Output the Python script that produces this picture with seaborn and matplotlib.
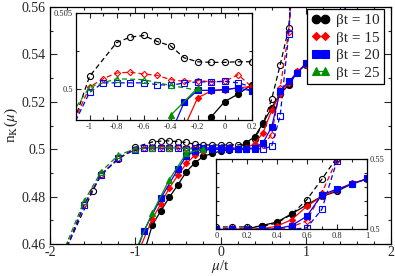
import matplotlib
matplotlib.use("Agg")
import matplotlib.pyplot as plt
import seaborn as sns
from matplotlib.ticker import MultipleLocator, FuncFormatter

sns.set_style("ticks")
plt.rcParams["font.family"] = ["Liberation Serif", "DejaVu Serif"]
plt.rcParams["mathtext.fontset"] = "stix"
plt.rcParams["axes.unicode_minus"] = False

# ---- data (mu/t, n_K) ----
# open symbols, dashed lines
x_open_10 = [-2.0, -1.5, -1.4, -1.2, -1.0, -0.8, -0.7, -0.6, -0.5, -0.4, -0.3, -0.2, -0.1,
             0.0, 0.1, 0.2, 0.3, 0.4, 0.5, 0.6, 0.7, 0.8, 0.9]
y_open_10 = [0.4430, 0.4824, 0.4895, 0.4957, 0.50085, 0.50306, 0.50342, 0.50353, 0.50314,
             0.50285, 0.50207, 0.50181, 0.50177, 0.50177, 0.50181, 0.50181, 0.5022, 0.5045,
             0.5108, 0.5211, 0.5356, 0.5510, 0.6000]

x_open_15 = [-2.0, -1.6, -1.4, -1.2, -1.0, -0.9, -0.8, -0.7, -0.6, -0.5, -0.4, -0.3, -0.2,
             -0.1, 0.0, 0.1, 0.2, 0.3, 0.4, 0.5, 0.6, 0.7, 0.8, 0.9]
y_open_15 = [0.4410, 0.4768, 0.4893, 0.4962, 0.50015, 0.50070, 0.50107, 0.50113, 0.50101,
             0.50092, 0.50064, 0.50053, 0.50058, 0.50050, 0.50053, 0.50096, 0.50017, 0.5003,
             0.5004, 0.5018, 0.5062, 0.5260, 0.5495, 0.6000]

x_open_20 = [-2.0, -1.6, -1.4, -1.2, -1.0, -0.9, -0.8, -0.7, -0.6, -0.5, -0.4, -0.3, -0.2,
             -0.1, 0.0, 0.1, 0.2, 0.3, 0.4, 0.5, 0.6, 0.7, 0.8, 0.9]
y_open_20 = [0.4410, 0.4765, 0.4890, 0.4962, 0.49980, 0.50043, 0.50043, 0.50043, 0.50043,
             0.50032, 0.50026, 0.50043, 0.50049, 0.50049, 0.50053, 0.50043, 0.50017, 0.5002,
             0.5001, 0.5002, 0.5012, 0.5142, 0.5485, 0.6000]

x_open_25 = [-2.0, -1.6, -1.4, -1.2, -1.0, -0.8, -0.6, -0.4, -0.2]
y_open_25 = [0.4430, 0.4781, 0.4905, 0.4975, 0.50015, 0.50070, 0.50064, 0.50026, 0.49995]

# filled symbols, solid lines
x_full_10 = [-1.0, -0.8, -0.7, -0.6, -0.5, -0.4, -0.3, -0.2, -0.1, 0.0, 0.1, 0.2, 0.3, 0.4,
             0.5, 0.6, 0.7, 0.8, 0.9, 1.0, 1.1, 1.2, 1.3, 1.4, 1.5]
y_full_10 = [0.4440, 0.4680, 0.4740, 0.4797, 0.4850, 0.4905, 0.4943, 0.4970, 0.4982, 0.4992,
             0.4997, 0.5003, 0.5028, 0.5052, 0.5111, 0.5175, 0.5235, 0.5270, 0.5325, 0.5357,
             0.5385, 0.5415, 0.5455, 0.5510, 0.5640]

x_full_15 = [-1.0, -0.8, -0.7, -0.6, -0.5, -0.4, -0.3, -0.2, -0.1, 0.0, 0.1, 0.2, 0.3, 0.4,
             0.5, 0.6, 0.7, 0.8, 0.9, 1.0, 1.1, 1.2, 1.3, 1.4, 1.5]
y_full_15 = [0.4537, 0.4705, 0.4770, 0.4837, 0.4890, 0.4940, 0.4975, 0.49945, 0.4999, 0.49997,
             0.5001, 0.5002, 0.5005, 0.5023, 0.5070, 0.5164, 0.5235, 0.5280, 0.5329, 0.5357,
             0.5385, 0.5415, 0.5455, 0.5510, 0.5640]

x_full_20 = [-1.0, -0.9, -0.7, -0.5, -0.4, -0.3, -0.2, -0.1, 0.0, 0.1, 0.2, 0.3, 0.4, 0.5,
             0.6, 0.7, 0.8, 0.9, 1.0, 1.1, 1.2, 1.3, 1.4, 1.5]
y_full_20 = [0.4550, 0.4655, 0.4793, 0.4916, 0.4971, 0.49915, 0.49994, 0.49994, 0.5000,
             0.5001, 0.4999, 0.5002, 0.5005, 0.5028, 0.5094, 0.5246, 0.5286, 0.5320, 0.5362,
             0.5385, 0.5415, 0.5455, 0.5510, 0.5640]

x_full_25 = [-1.0, -0.8, -0.6, -0.4, -0.2]
y_full_25 = [0.4570, 0.4731, 0.4872, 0.4983, 0.5001]

labels = ["βt = 10", "βt = 15", "βt = 20", "βt = 25"]
colors = ["black", "red", "blue", "#009000"]
markers = ["o", "D", "s", "^"]
msizes = [4.4, 3.2, 3.7, 4.4]

open_sets = [(x_open_10, y_open_10), (x_open_15, y_open_15),
             (x_open_20, y_open_20), (x_open_25, y_open_25)]
full_sets = [(x_full_10, y_full_10), (x_full_15, y_full_15),
             (x_full_20, y_full_20), (x_full_25, y_full_25)]

fmt = FuncFormatter(lambda v, p: "%g" % round(v, 6))


def draw(ax):
    handles = []
    for i, (xs, ys) in enumerate(open_sets):
        sns.lineplot(x=xs, y=ys, ax=ax, color=colors[i], marker=markers[i],
                     markersize=msizes[i], markerfacecolor="none",
                     markeredgecolor=colors[i], markeredgewidth=0.8,
                     linewidth=0.9, errorbar=None)
        ax.lines[-1].set_dashes((4, 2.5))
    for i, (xs, ys) in enumerate(full_sets):
        sns.lineplot(x=xs, y=ys, ax=ax, color=colors[i], marker=markers[i],
                     markersize=msizes[i], markerfacecolor=colors[i],
                     markeredgecolor=colors[i], markeredgewidth=0.8,
                     linewidth=0.9, errorbar=None)
        handles.append(ax.lines[-1])
    return handles


def style_ticks(ax, major, minor, lsize):
    ax.tick_params(which="both", direction="in", top=True, right=True,
                   labelsize=lsize, width=0.8, pad=2)
    ax.tick_params(which="major", length=major)
    ax.tick_params(which="minor", length=minor)
    ax.xaxis.set_major_formatter(fmt)
    ax.yaxis.set_major_formatter(fmt)
    for s in ax.spines.values():
        s.set_linewidth(0.9)
        s.set_color("black")


fig = plt.figure(figsize=(3.95, 2.76), dpi=100)
ax = fig.add_axes([0.1266, 0.1159, 0.8633, 0.8587])
handles = draw(ax)
ax.set_xlim(-2, 2)
ax.set_ylim(0.46, 0.56)
ax.xaxis.set_major_locator(MultipleLocator(1))
ax.xaxis.set_minor_locator(MultipleLocator(0.2))
ax.yaxis.set_major_locator(MultipleLocator(0.02))
ax.yaxis.set_minor_locator(MultipleLocator(0.01))
style_ticks(ax, 5, 2.5, 10)
ax.tick_params(axis="x", pad=1.5)
ax.tick_params(axis="y", pad=3.5)
ax.set_xlabel(r"$\mu$/t", fontsize=11, labelpad=-1)
ax.set_ylabel(r"n$_\mathrm{K}$($\mu$)", fontsize=11, labelpad=1)

leg = ax.legend(handles, labels, loc="upper right", bbox_to_anchor=(0.98, 0.992),
                borderaxespad=0, fontsize=11, numpoints=2, handlelength=1.2,
                handletextpad=0.4, labelspacing=0.25, borderpad=0.3,
                markerscale=1.4, fancybox=False, framealpha=1, edgecolor="black")
leg.get_frame().set_linewidth(0.9)

# inset 1: plateau
ax1 = fig.add_axes([0.1924, 0.5652, 0.4448, 0.3877])
draw(ax1)
ax1.set_xlim(-1.1, 0.2)
ax1.set_ylim(0.498, 0.505)
ax1.xaxis.set_major_locator(MultipleLocator(0.2))
ax1.xaxis.set_minor_locator(MultipleLocator(0.1))
ax1.yaxis.set_major_locator(MultipleLocator(0.005))
ax1.yaxis.set_minor_locator(MultipleLocator(0.0025))
style_ticks(ax1, 3.5, 2, 6)
ax1.set_facecolor("white")

# inset 2: onset of the rise
ax2 = fig.add_axes([0.548, 0.1685, 0.381, 0.2554])
draw(ax2)
ax2.set_xlim(0, 1)
ax2.set_ylim(0.5, 0.55)
ax2.xaxis.set_major_locator(MultipleLocator(0.2))
ax2.xaxis.set_minor_locator(MultipleLocator(0.1))
ax2.yaxis.set_major_locator(MultipleLocator(0.05))
ax2.yaxis.set_minor_locator(MultipleLocator(0.01))
style_ticks(ax2, 3.5, 2, 6)
ax2.tick_params(labelleft=False, labelright=True)
ax2.set_facecolor("white")

fig.savefig("out.png", dpi=100)
